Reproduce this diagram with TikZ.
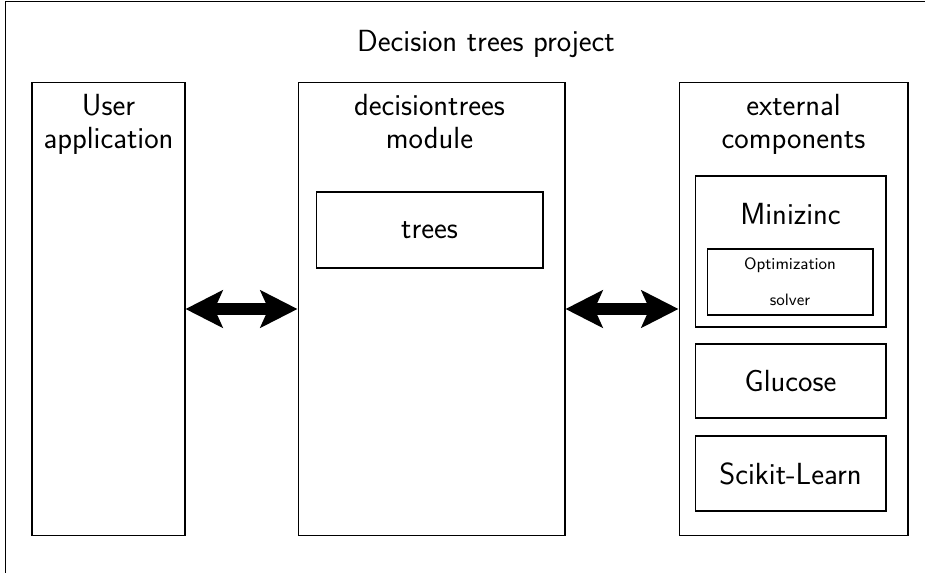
\documentclass[tikz,border=0pt]{standalone}
\usepackage{tikz}
\usetikzlibrary{arrows.meta}

\begin{document}
\begin{tikzpicture}[
    x=0.02cm, y=-0.02cm,
    >={Stealth[length=7.4mm, width=7.4mm, inset=1.6mm]},
    font=\sffamily\fontsize{17.4}{18.7}\selectfont,
    box/.style={draw=black, line width=0.6pt, inner sep=0pt},
    column/.style={box, minimum height=9.08cm},
    part/.style={box, minimum width=3.82cm},
    lab/.style={align=center, inner sep=0pt, anchor=north},
    small/.style={align=center, inner sep=0pt,
                  font=\sffamily\fontsize{9.4}{20.4}\selectfont},
    link/.style={<->, line width=2.4mm},
  ]
    \path[use as bounding box, clip] (0,0) rectangle (925,572);
    % --- project frame ---------------------------------------------------
    \node[box, anchor=north west, minimum width=20cm, minimum height=13cm]
          (proj) at (5,1) {};
    \node (title) at (486,44) {Decision trees project};
    % --- columns ---------------------------------------------------------
    \node[column, minimum width=3.06cm] (user) at (108.5,309) {};
    \node[column, minimum width=5.34cm] (dt)   at (431.5,309) {};
    \node[column, minimum width=4.58cm] (ext)  at (793.5,309) {};
    \node[lab] (userlab) at (108.5,94) {User\\application};
    \node[lab] (dtlab)   at (429.5,94) {decisiontrees\\module};
    \node[lab] (extlab)  at (793.5,94) {external\\components};
    % --- module content --------------------------------------------------
    \node[box, minimum width=4.54cm, minimum height=1.52cm]
          (trees) at (429.5,230) {trees};
    % --- external parts --------------------------------------------------
    \node[part, minimum height=3.02cm] (mzn) at (790.5,251.5) {};
    \node (mznlab) at (790.5,214.5) {Minizinc};
    \node[box, small, minimum width=3.32cm, minimum height=1.32cm]
          (solver) at (790,282) {Optimization\\solver};
    \node[part, minimum height=1.48cm] (glu) at (790.5,381) {Glucose};
    \node[part, minimum height=1.5cm]  (skl) at (790.5,473.5) {Scikit-Learn};
    % --- links -----------------------------------------------------------
    \draw[link] (user) -- (dt);
    \draw[link] (dt) -- (ext);
  \end{tikzpicture}
\end{document}
